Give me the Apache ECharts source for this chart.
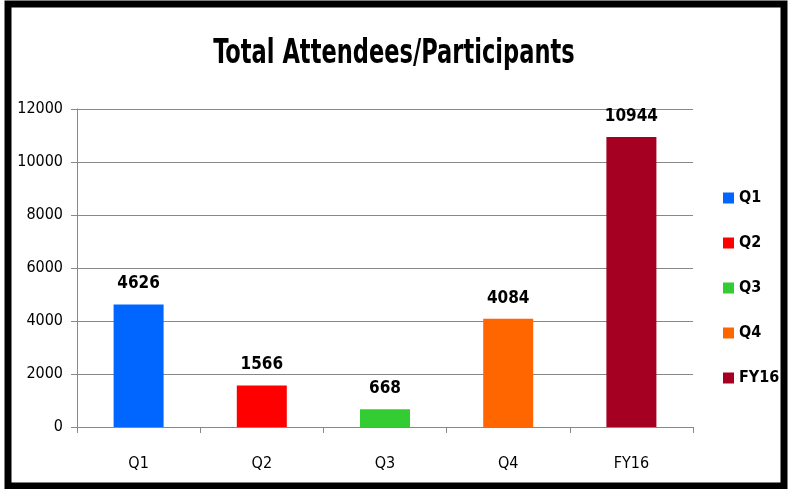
<!DOCTYPE html>
<html lang="en">
<head>
    <title>Total Attendees/Participants</title>
    <meta charset="utf-8">
    <style>
        html, body { margin: 0; padding: 0; background: #fff; }
    </style>
</head>
<body>
<script type="text/javascript" src="https://cdn.jsdelivr.net/npm/echarts@6/dist/echarts.min.js"></script>
<div id="main" style="width: 788px;height: 489px"></div>
<script type="text/javascript">
    var categories = ['Q1', 'Q2', 'Q3', 'Q4', 'FY16'];
    var values = [4626, 1566, 668, 4084, 10944];
    var colors = ['#0066ff', '#ff0000', '#33cc33', '#ff6600', '#a50021'];
    var yTicks = [0, 2000, 4000, 6000, 8000, 10000, 12000];
    var titleText = 'Total Attendees/Participants';

    var font = '"DejaVu Sans Condensed", "DejaVu Sans", sans-serif';

    var dom = document.getElementById('main');
    var myChart = echarts.init(dom);

    // one series per category so the legend shows each bar's colour
    var series = [];
    for (var i = 0; i < categories.length; i++) {
        var d = [];
        for (var j = 0; j < categories.length; j++) {
            d.push(j === i ? values[i] : '-');
        }
        series.push({
            name: categories[i],
            type: 'bar',
            data: d,
            barWidth: 50,
            barGap: '-100%',
            itemStyle: { color: colors[i] },
            label: {
                show: true,
                position: 'top',
                distance: 12,
                fontFamily: font,
                fontWeight: 'bold',
                fontSize: 17,
                color: '#000'
            }
        });
    }

    var option = {
        animation: false,
        backgroundColor: '#fff',
        legend: {
            orient: 'vertical',
            left: 718,
            top: 185,
            itemWidth: 11,
            itemHeight: 11,
            itemGap: 29,
            itemTextGap: 5,
            icon: 'rect',
            data: categories,
            textStyle: {
                fontFamily: font,
                fontWeight: 'bold',
                fontSize: 16,
                color: '#000'
            }
        },
        grid: {
            left: 77,
            top: 109,
            width: 616,
            height: 318
        },
        xAxis: {
            type: 'category',
            data: categories,
            axisLine: { lineStyle: { color: '#888', width: 1 } },
            axisTick: { show: true, length: 6, lineStyle: { color: '#888' } },
            axisLabel: {
                margin: 29,
                fontFamily: font,
                fontSize: 16,
                color: '#000'
            }
        },
        yAxis: {
            type: 'value',
            min: yTicks[0],
            max: yTicks[yTicks.length - 1],
            interval: 2000,
            axisLine: { show: true, lineStyle: { color: '#888', width: 1 } },
            axisTick: { show: true, length: 6, lineStyle: { color: '#888' } },
            splitLine: { lineStyle: { color: '#888', width: 1 } },
            axisLabel: {
                margin: 14,
                fontFamily: font,
                fontSize: 16,
                color: '#000',
                formatter: function (v) { return String(v); }
            }
        },
        graphic: [{
            // condensed bold title
            type: 'text',
            x: 394,
            y: 54,
            scaleX: 0.76,
            style: {
                text: titleText,
                fontFamily: font,
                fontWeight: 'bold',
                fontSize: 33,
                fill: '#000',
                textAlign: 'center',
                textVerticalAlign: 'middle'
            }
        }, {
            type: 'rect',
            shape: { x: 8, y: 4, width: 776, height: 482 },
            style: { fill: 'none', stroke: '#000', lineWidth: 7 },
            z: 100
        }],
        series: series
    };
    myChart.setOption(option);
</script>
</body>
</html>
